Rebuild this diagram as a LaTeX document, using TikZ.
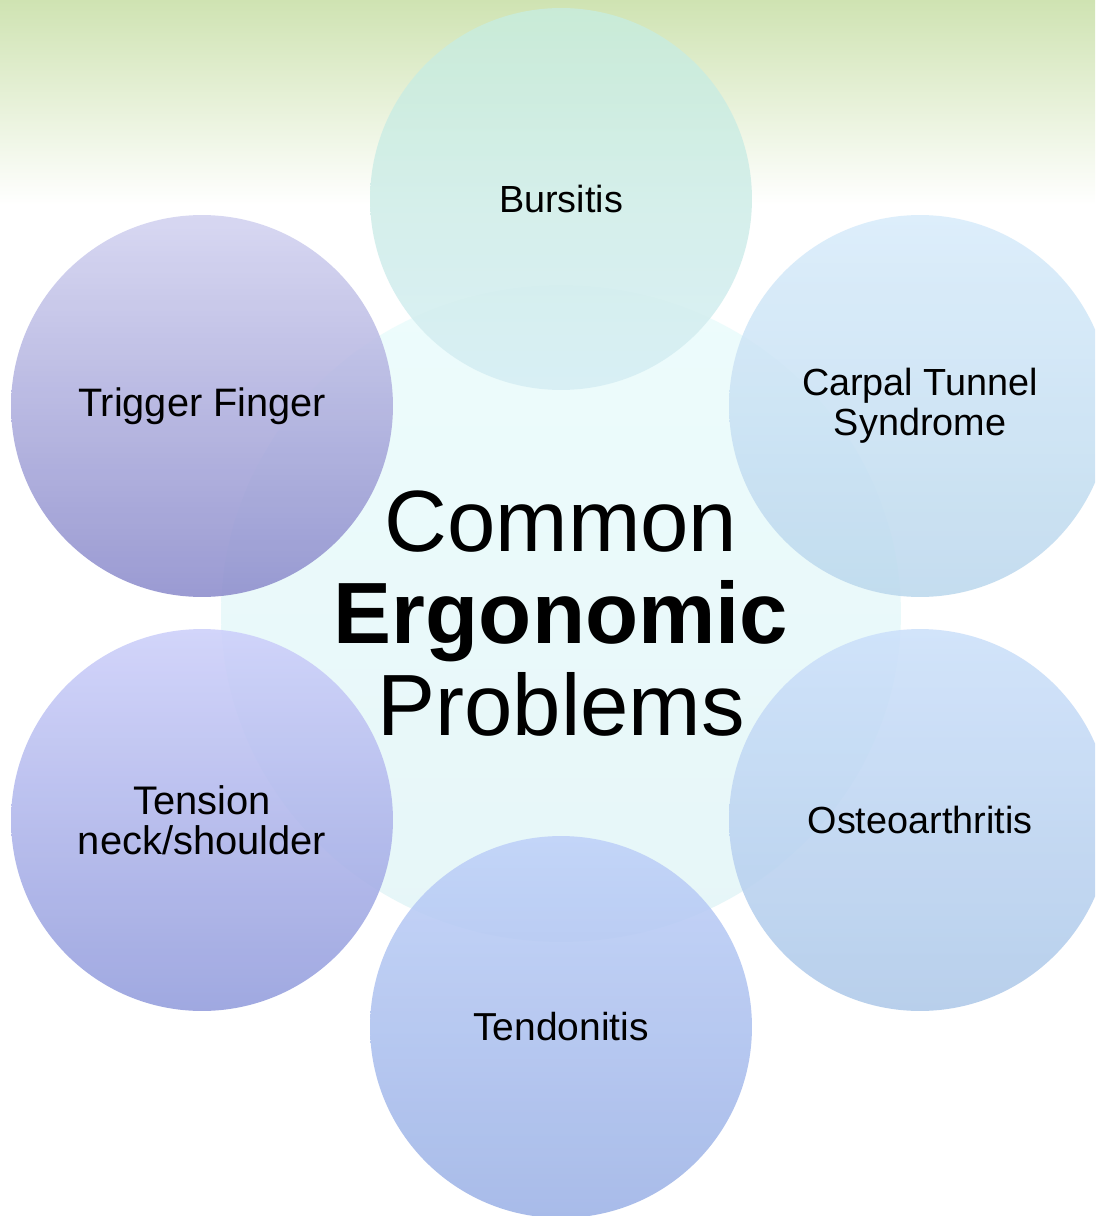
\documentclass[tikz,border=0pt]{standalone}
\usepackage{fontspec}
\setmainfont{Liberation Sans}
\usetikzlibrary{shapes.geometric}

\definecolor{leafTop}{RGB}{207,227,178}
\definecolor{hubTop}{RGB}{237,252,252}
\definecolor{hubBot}{RGB}{230,246,248}

\tikzset{
    hub/.style={ellipse, minimum width=13.6cm, minimum height=13.14cm, inner sep=0pt, align=center,
        top color=hubTop, bottom color=hubBot, draw=none,
        font=\fontsize{49.5}{52.5}\selectfont},
    problem/.style={circle, minimum size=7.64cm, inner sep=0pt, align=center,
        draw=none, fill opacity=0.87, text opacity=1,
        font=\fontsize{21.5}{22.8}\selectfont},
}

\begin{document}
\begin{tikzpicture}[x=0.02cm, y=-0.02cm]
    \useasboundingbox (0,0) rectangle (1095,1216);
    \clip (0,0) rectangle (1095,1216);
    % green band at the top
    \fill[white] (0,0) rectangle (1095,1216);
    \shade[top color=leafTop, bottom color=white] (0,0) rectangle (1095,205);

    \node[hub] (hub) at (561,613.5) {Common\\\textbf{Ergonomic}\\Problems};

    \node[problem, top color={rgb,255:red,200;green,236;blue,220}, bottom color={rgb,255:red,214;green,238;blue,244}]
        (bursitis) at (561,199) {Bursitis};
    \node[problem, top color={rgb,255:red,216;green,236;blue,251}, bottom color={rgb,255:red,188;green,216;blue,237}]
        (carpal) at (920,406) {Carpal Tunnel\\Syndrome};
    \node[problem, top color={rgb,255:red,204;green,224;blue,250}, bottom color={rgb,255:red,174;green,201;blue,233}]
        (osteo) at (920,820) {Osteoarthritis};
    \node[problem, top color={rgb,255:red,190;green,208;blue,248}, bottom color={rgb,255:red,156;green,178;blue,230},
        font=\fontsize{22.2}{22.8}\selectfont]
        (tendon) at (561,1027) {Tendonitis};
    \node[problem, top color={rgb,255:red,204;green,207;blue,250}, bottom color={rgb,255:red,146;green,156;blue,220},
        font=\fontsize{22.7}{22.8}\selectfont]
        (tension) at (202,820) {Tension\\neck/shoulder};
    \node[problem, top color={rgb,255:red,210;green,210;blue,240}, bottom color={rgb,255:red,140;green,140;blue,204},
        font=\fontsize{22.6}{22.8}\selectfont]
        (trigger) at (202,406) {Trigger Finger};
\end{tikzpicture}
\end{document}
